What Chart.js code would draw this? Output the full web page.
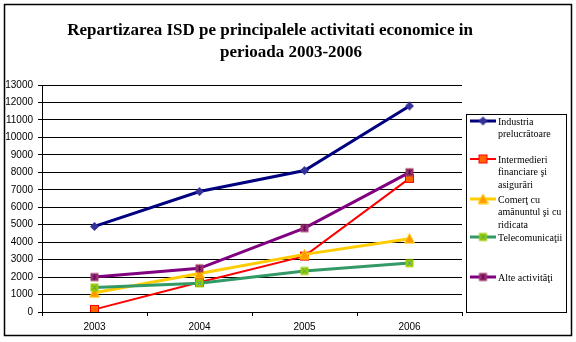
<!DOCTYPE html>
<html>
<head>
<meta charset="utf-8">
<script src="https://cdn.jsdelivr.net/npm/chart.js@4"></script>
<style>
  html, body { margin: 0; padding: 0; background: #fff; }
  #wrap { width: 576px; height: 342px; }
</style>
</head>
<body>
<div id="wrap"><canvas id="isdChart" width="576" height="342"></canvas></div>
<script>
// ISD pe activitati, milioane euro
var years = ['2003', '2004', '2005', '2006'];
var industria = [4900, 6900, 8100, 11800];
var intermedieri = [150, 1700, 3200, 7650];
var comert = [1100, 2200, 3300, 4200];
var telecom = [1400, 1650, 2350, 2800];
var alte = [2000, 2500, 4800, 8000];

var seriesNames = [
    ['Industria', 'prelucrătoare'],
    ['Intermedieri', 'financiare şi', 'asigurări'],
    ['Comerţ cu', 'amănuntul şi cu', 'ridicata'],
    ['Telecomunicaţii'],
    ['Alte activităţi']
];

// little canvases used as point markers (excel-ish shapes)
function marker(kind) {
    var c = document.createElement('canvas');
    c.width = 11; c.height = 11;
    var g = c.getContext('2d');
    if (kind == 'diamond') {
        g.fillStyle = '#333399';
        g.beginPath();
        g.moveTo(5.5, 1); g.lineTo(10, 5.5); g.lineTo(5.5, 10); g.lineTo(1, 5.5);
        g.closePath(); g.fill();
    } else if (kind == 'square') {
        g.fillStyle = '#FF6600';
        g.fillRect(1, 1, 9, 9);
        g.strokeStyle = '#FF0000';
        g.lineWidth = 1;
        g.strokeRect(1.5, 1.5, 8, 8);
    } else if (kind == 'triangle') {
        g.fillStyle = '#FF9900';
        g.strokeStyle = '#FFCC00';
        g.beginPath();
        g.moveTo(5.5, 0.5); g.lineTo(10.5, 10); g.lineTo(0.5, 10);
        g.closePath(); g.fill(); g.stroke();
    } else if (kind == 'xsquare') {
        g.fillStyle = '#99CC00';
        g.fillRect(1.5, 1.5, 8, 8);
        g.strokeStyle = '#339999';
        g.lineWidth = 1;
        g.beginPath();
        g.moveTo(3.5, 3.5); g.lineTo(7.5, 7.5);
        g.moveTo(7.5, 3.5); g.lineTo(3.5, 7.5);
        g.stroke();
    } else if (kind == 'star') {
        g.fillStyle = '#993366';
        g.fillRect(1.5, 1.5, 8, 8);
        g.strokeStyle = '#660066';
        g.lineWidth = 1;
        g.beginPath();
        g.moveTo(3.5, 3.5); g.lineTo(7.5, 7.5);
        g.moveTo(7.5, 3.5); g.lineTo(3.5, 7.5);
        g.moveTo(5.5, 2.5); g.lineTo(5.5, 8.5);
        g.stroke();
    }
    return c;
}

var lineColours = ['#000080', '#FF0000', '#FFCC00', '#339966', '#800080'];
var lineWidths = [3, 2, 3, 3, 3];
var markers = [marker('diamond'), marker('square'), marker('triangle'), marker('xsquare'), marker('star')];
var values = [industria, intermedieri, comert, telecom, alte];

var datasets = [];
for (var i = 0; i < values.length; i++) {
    datasets.push({
        label: seriesNames[i].join(' '),
        data: values[i],
        borderColor: lineColours[i],
        borderWidth: lineWidths[i],
        pointStyle: markers[i],
        pointRadius: 5,
        fill: false,
        tension: 0,
        order: values.length - i   // later series drawn on top, like excel
    });
}

// frame, title and the boxed legend on the right
var decorations = {
    id: 'decorations',
    beforeDraw: function(chart) {
        var ctx = chart.ctx;
        ctx.save();
        ctx.fillStyle = '#fff';
        ctx.fillRect(0, 0, chart.width, chart.height);
        ctx.restore();
    },
    afterDraw: function(chart) {
        var ctx = chart.ctx;
        ctx.save();
        ctx.strokeStyle = '#000';
        ctx.lineWidth = 1.5;
        ctx.strokeRect(4.5, 4.5, 567, 331);

        ctx.fillStyle = '#000';
        ctx.font = 'bold 17px "Liberation Serif"';
        ctx.textAlign = 'center';
        ctx.textBaseline = 'alphabetic';
        ctx.fillText('Repartizarea ISD pe principalele activitati economice in', 270, 35);
        ctx.fillText('perioada 2003-2006', 291, 57);

        ctx.lineWidth = 1;
        ctx.strokeRect(466.5, 114.5, 100, 198);

        var rowY = [121, 159, 199, 237, 277];
        ctx.font = '10px "Liberation Serif"';
        ctx.textAlign = 'left';
        ctx.textBaseline = 'middle';
        chart.data.datasets.forEach(function(ds, k) {
            var y = rowY[k];
            ctx.strokeStyle = ds.borderColor;
            ctx.lineWidth = ds.borderWidth;
            ctx.beginPath();
            ctx.moveTo(470, y);
            ctx.lineTo(496, y);
            ctx.stroke();
            ctx.drawImage(ds.pointStyle, 483 - 5.5, y - 5.5);
            ctx.fillStyle = '#000';
            seriesNames[k].forEach(function(line, j) {
                ctx.fillText(line, 498, y + 1 + j * 12.8);
            });
        });
        ctx.restore();
    }
};

new Chart(document.getElementById('isdChart').getContext('2d'), {
    type: 'line',
    data: { labels: years, datasets: datasets },
    options: {
        responsive: false,
        animation: false,
        layout: { padding: { top: 85, right: 114, bottom: 0, left: 0 } },
        plugins: {
            legend: { display: false },
            title: { display: false },
            tooltip: { enabled: false }
        },
        scales: {
            x: {
                offset: true,
                grid: { offset: true, drawOnChartArea: false, color: '#000', tickLength: 4 },
                border: { color: '#000', width: 1 },
                ticks: { color: '#000', font: { family: '"Liberation Sans"', size: 10 }, padding: 5, maxRotation: 0 },
                afterFit: function(scale) { scale.height = 30; }
            },
            y: {
                min: 0,
                max: 13000,
                ticks: {
                    stepSize: 1000,
                    color: '#000',
                    font: { family: '"Liberation Sans"', size: 10 },
                    padding: 5,
                    callback: function(v) { return String(v); }
                },
                grid: { color: '#000', tickLength: 4 },
                border: { color: '#000', width: 1 },
                afterFit: function(scale) { scale.width = 42; }
            }
        }
    },
    plugins: [decorations]
});
</script>
</body>
</html>
